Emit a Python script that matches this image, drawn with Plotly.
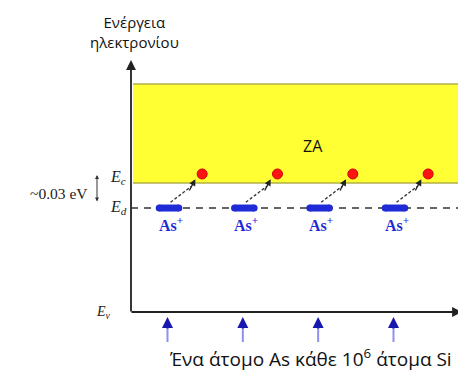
import plotly.graph_objects as go

# ---- data (schematic energy-band diagram) ----
donor_index = [1, 2, 3, 4]                 # one As donor per 10^6 Si atoms
level_names = ["E_v", "E_d", "E_c", "E_top"]
level_values = [0.0, 0.806, 1.0, 1.767]   # relative energy units
electron_energy = 1.07
electron_shift = 0.44
band_label = "ZA"
donor_label = "As<sup>+</sup>"
gap_label = "~0.03 eV"
y_title = "Ενέργεια<br>ηλεκτρονίου"
x_note = "Ένα άτομο As κάθε 10<sup>6</sup> άτομα Si"

E_v, E_d, E_c, E_top = level_values

# layout helpers (figure geometry; page body has an 8px margin)
PXX, PXY = 75.33, 129.0
OFF = 8
def xd(px):
    return 1 + (px - 169) / PXX
def yd(py):
    return (312 - py) / PXY

fig = go.Figure()

serif = "Liberation Serif, DejaVu Serif, serif"
sans = "Open Sans, Noto Sans, sans-serif"
blue = "#1f2bd6"

# conduction band
fig.add_shape(type="rect", x0=xd(133), x1=xd(470), y0=E_c, y1=E_top,
              fillcolor="#ffff33", line=dict(width=0), layer="below")
for yy in (E_c, E_top):
    fig.add_shape(type="line", x0=xd(133), x1=xd(470), y0=yy, y1=yy,
                  line=dict(color="#b0b048", width=1.5), layer="below")

# donor level dashed line
fig.add_shape(type="line", x0=xd(131), x1=xd(470), y0=E_d, y1=E_d, layer="below",
              line=dict(color="#333333", width=1.5, dash="7px,6px"))

# axes
fig.add_annotation(x=xd(131), y=yd(60), ax=xd(131), ay=yd(313), xref="x", yref="y",
                   axref="x", ayref="y", showarrow=True, arrowhead=2, arrowsize=1.1,
                   arrowwidth=1.8, arrowcolor="#222222", text="")
fig.add_annotation(x=xd(462), y=E_v, ax=xd(130), ay=E_v, xref="x", yref="y",
                   axref="x", ayref="y", showarrow=True, arrowhead=2, arrowsize=1.1,
                   arrowwidth=1.8, arrowcolor="#222222", text="")

# donor bars
for d in donor_index:
    fig.add_trace(go.Scatter(x=[d - 0.13, d + 0.13], y=[E_d, E_d], mode="lines+markers",
                             line=dict(color=blue, width=7),
                             marker=dict(color=blue, size=7),
                             hoverinfo="skip", showlegend=False))

# electrons
fig.add_trace(go.Scatter(x=[d + electron_shift for d in donor_index],
                         y=[electron_energy] * len(donor_index), mode="markers",
                         marker=dict(color="#ff1414", size=10,
                                     line=dict(color="#d00000", width=1)),
                         hoverinfo="skip", showlegend=False))

# dashed excitation arrows
for d in donor_index:
    x0, y0 = d + 0.02, E_d + 0.045
    x1, y1 = d + electron_shift - 0.09, electron_energy - 0.04
    fig.add_trace(go.Scatter(x=[x0, x1 - 0.05], y=[y0, y1 - 0.055], mode="lines",
                             line=dict(color="#333333", width=1.3, dash="3px,2px"),
                             hoverinfo="skip", showlegend=False))
    fig.add_annotation(x=x1, y=y1, ax=x1 - 0.09, ay=y1 - 0.1, xref="x", yref="y",
                       axref="x", ayref="y", showarrow=True, arrowhead=2,
                       arrowsize=1, arrowwidth=1.3, arrowcolor="#222222", text="")
    # As+ label
    fig.add_annotation(x=d + 0.02, y=yd(224), text="<b>" + donor_label + "</b>",
                       showarrow=False, font=dict(family=serif, size=16, color=blue))
    # arrows below axis
    fig.add_shape(type="line", x0=d - 0.02, x1=d - 0.02, y0=yd(342), y1=yd(325),
                  line=dict(color="#9090ee", width=2))
    fig.add_annotation(x=d - 0.02, y=yd(317), ax=d - 0.02, ay=yd(330), xref="x", yref="y",
                       axref="x", ayref="y", showarrow=True, arrowhead=2, arrowsize=1.1,
                       arrowwidth=2, arrowcolor="#1818b0", text="")

# level labels
fig.add_annotation(x=xd(128), y=yd(177), text="<i>E<sub>c</sub></i>", showarrow=False,
                   xanchor="right", font=dict(family=serif, size=16, color="#222222"))
fig.add_annotation(x=xd(129), y=yd(207), text="<i>E<sub>d</sub></i>", showarrow=False,
                   xanchor="right", font=dict(family=serif, size=16, color="#222222"))
fig.add_annotation(x=xd(113), y=yd(312), text="<i>E<sub>v</sub></i>", showarrow=False,
                   xanchor="right", font=dict(family=serif, size=14, color="#222222"))
fig.add_annotation(x=xd(90), y=yd(193), text=gap_label, showarrow=False,
                   xanchor="right", font=dict(family=serif, size=15.5, color="#222222"))
fig.add_annotation(x=xd(97), y=yd(175), ax=xd(97), ay=yd(203), xref="x", yref="y",
                   axref="x", ayref="y", showarrow=True, arrowhead=2, arrowsize=0.8,
                   arrowside="end+start", arrowwidth=1, arrowcolor="#333333", text="")

# band label
fig.add_annotation(x=xd(313), y=yd(146), text=band_label, showarrow=False,
                   font=dict(family=sans, size=16, color="#111111"))

# axis title and bottom note
fig.add_annotation(x=xd(134), y=yd(32), text=y_title, showarrow=False,
                   font=dict(family=sans, size=15, color="#111111"))
fig.add_annotation(x=xd(310), y=yd(358), text=x_note, showarrow=False,
                   font=dict(family=sans, size=19, color="#111111"))

fig.update_layout(
    width=466 - OFF, height=371 - OFF, autosize=False,
    margin=dict(l=0, r=0, t=0, b=0),
    paper_bgcolor="white", plot_bgcolor="white",
    xaxis=dict(range=[xd(OFF), xd(466)], visible=False, fixedrange=True),
    yaxis=dict(range=[yd(371), yd(OFF)], visible=False, fixedrange=True),
    showlegend=False,
)

fig.write_html("out.html")
